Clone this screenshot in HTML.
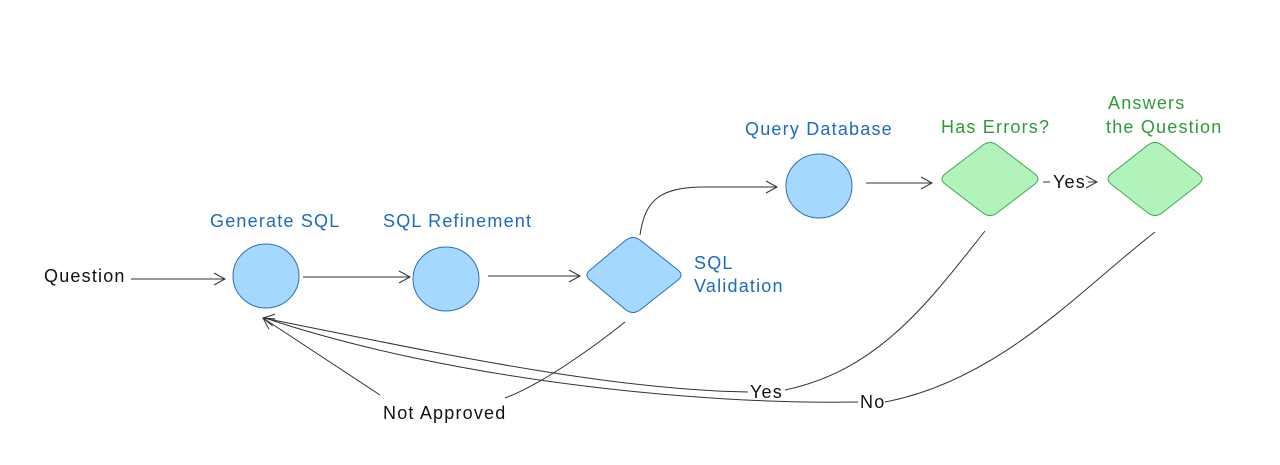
<!DOCTYPE html>
<html><head><meta charset="utf-8"><style>
html,body{margin:0;padding:0;background:#fff;}
svg{display:block}
text{font-family:"Liberation Sans",sans-serif;font-size:18px;letter-spacing:1.2px}
.b{fill:#1c6bc0}.g{fill:#2f9a3a}.k{fill:#111}
</style></head><body>
<svg width="1280" height="465" viewBox="0 0 1280 465">
<defs><marker id="a" markerWidth="14" markerHeight="14" refX="12" refY="7" orient="auto" markerUnits="userSpaceOnUse"><path d="M1,1 L12,7 L1,13" fill="none" stroke="#333" stroke-width="1"/></marker></defs>
<g fill="none" stroke="#333" stroke-width="1">
<path d="M131,279 L225,279" marker-end="url(#a)"/>
<path d="M303,277 L410,277" marker-end="url(#a)"/>
<path d="M488,276 L580,276" marker-end="url(#a)"/>
<path d="M640,235 C645,200 660,188 700,187 L777,187" marker-end="url(#a)"/>
<path d="M866,183 L932,183" marker-end="url(#a)"/>
<path d="M1043,182 L1050,182"/>
<path d="M1088,182 L1097,182" marker-end="url(#a)"/>
<path d="M625,322 C590,350 540,385 505,398"/>
<path d="M380,395 L263,318" marker-end="url(#a)"/>
<path d="M985,231 C930,300 880,370 785,390"/>
<path d="M748,392 C600,390 400,345 263,318" marker-end="url(#a)"/>
<path d="M1155,232 C1080,290 1000,380 885,402"/>
<path d="M858,402 C700,405 450,380 265,318"/>
</g>
<g stroke="#2c6fb8" stroke-width="1" fill="#a5d8ff">
<ellipse cx="266" cy="276" rx="33" ry="32"/>
<ellipse cx="446" cy="279" rx="33" ry="32"/>
<ellipse cx="819" cy="186" rx="33" ry="32"/>
<path d="M626,240 Q633,235 640,240 L678,270 Q684,275 678,280 L640,310 Q633,315 626,310 L590,280 Q584,275 590,270 Z"/>
</g>
<g stroke="#3da84a" stroke-width="1" fill="#b2f2bb">
<path d="M983,145 Q990,140 997,145 L1035,174 Q1041,179 1035,184 L997,213 Q990,218 983,213 L945,184 Q939,179 945,174 Z"/>
<path d="M1148,145 Q1155,140 1162,145 L1199,174 Q1205,179 1199,184 L1162,213 Q1155,218 1148,213 L1111,184 Q1105,179 1111,174 Z"/>
</g>
<text class="k" x="44" y="282">Question</text>
<text class="b" x="210" y="227">Generate SQL</text>
<text class="b" x="383" y="227">SQL Refinement</text>
<text class="b" x="694" y="269">SQL</text>
<text class="b" x="694" y="292">Validation</text>
<text class="b" x="745" y="135">Query Database</text>
<text class="g" x="941" y="133">Has Errors?</text>
<text class="g" x="1108" y="109">Answers</text>
<text class="g" x="1106" y="133">the Question</text>
<text class="k" x="1053" y="188">Yes</text>
<text class="k" x="383" y="419">Not Approved</text>
<text class="k" x="750" y="398">Yes</text>
<text class="k" x="860" y="408">No</text>
</svg>
</body></html>
